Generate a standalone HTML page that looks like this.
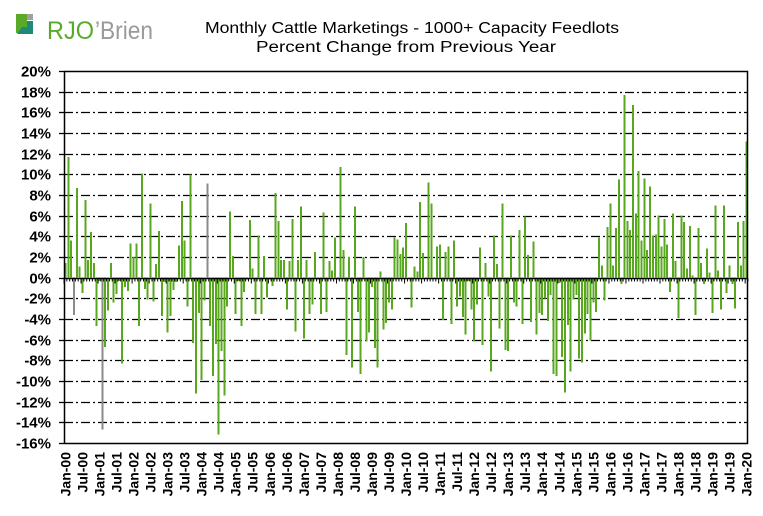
<!DOCTYPE html>
<html><head><meta charset="utf-8"><style>
html,body{margin:0;padding:0;background:#fff;}
svg{display:block;font-family:"Liberation Sans",Arial,sans-serif;}
</style></head><body>
<svg id="c" width="763" height="516" viewBox="0 0 763 516" xmlns="http://www.w3.org/2000/svg">
<rect x="0" y="0" width="763" height="516" fill="#fff"/>
<!-- logo -->
<rect x="16" y="14" width="11" height="19" fill="#5aaa2a"/>
<rect x="27" y="14" width="6" height="6" fill="#a0a0a0"/>
<polygon points="17,34 33,34 33,21 27,21 27,27 22,27" fill="#1e8a7a"/>
<text x="47" y="39" font-size="25" fill="#5aaa2a" textLength="47" lengthAdjust="spacingAndGlyphs">RJO</text>
<text x="95" y="39" font-size="25" fill="#9a9a9a" textLength="58" lengthAdjust="spacingAndGlyphs">’Brien</text>
<text x="412" y="33" font-size="15.5" text-anchor="middle" textLength="414" lengthAdjust="spacingAndGlyphs">Monthly Cattle Marketings  - 1000+ Capacity Feedlots</text>
<text x="406" y="52" font-size="15.5" text-anchor="middle" textLength="300" lengthAdjust="spacingAndGlyphs">Percent Change from Previous Year</text>
<g id="grid"></g>
<g id="bars" shape-rendering="crispEdges"></g>
<g id="axes"></g>
</svg>
<script>
var d=[1.4,11.7,3.6,-3.6,8.7,1.1,-1.5,7.5,1.7,4.4,1.4,-4.7,-0.3,-14.7,-6.7,-3.2,1.4,-2.4,-1.6,-0.3,-8.3,-0.9,-1.3,3.3,2.0,3.3,-4.7,10.1,-1.1,-2.1,7.2,-2.3,1.3,4.5,-3.7,-0.4,-5.3,-3.7,-1.2,-0.4,3.1,7.4,3.6,-2.8,10.0,-6.3,-11.2,-3.4,-9.9,-2.2,9.1,-4.7,-9.5,-6.4,-15.2,-7.1,-11.4,-2.8,6.4,2.1,-3.5,
-0.3,-4.7,-1.4,-0.2,5.6,0.9,-3.5,4.1,-3.5,2.1,-1.9,-0.2,-0.8,8.2,5.5,1.7,1.7,-3.1,1.6,5.7,-5.2,1.7,6.9,-5.9,1.7,-3.5,-2.6,2.5,-0.2,-3.5,6.3,-3.3,1.6,0.7,3.9,-0.2,10.7,2.7,-7.5,2.0,-8.7,6.9,-3.3,-9.3,2.0,-6.2,-5.3,-0.9,-6.8,-8.7,0.6,-5.0,-4.4,-2.4,-3.1,3.9,3.7,2.3,2.9,5.3,
0,-2.9,1.1,0.6,7.3,2.4,0,9.2,7.2,0,3.0,3.2,-4.1,2.5,3.0,-4.5,3.6,-2.8,-1.8,-3.8,-5.5,-0.3,-3.1,-6.2,-2.6,2.9,-6.5,1.4,-1.8,-9.1,4.1,1.3,-4.9,7.2,-7.0,-7.1,4.1,-2.4,-2.8,4.6,-4.5,5.9,2.2,-4.3,3.5,-5.5,-3.4,-3.6,-2.0,-4.2,-1.7,-9.3,-9.5,-0.5,-7.7,-11.1,-4.6,-9.1,-2.1,-1.7,-7.8,
-8.2,-5.4,-3.5,-6.1,-2.4,-3.3,3.9,1.2,-2.2,4.9,7.2,1.2,4.8,9.5,-0.6,17.7,5.5,4.6,16.7,6.2,10.3,3.6,9.6,2.7,8.8,4.1,4.2,6.0,3.0,5.7,3.2,-1.4,6.2,1.6,-3.9,6.0,5.4,0.9,5.0,0.2,-3.6,4.8,1.4,-0.6,2.8,0.5,-3.4,7.0,0.7,-3.1,7.0,-1.5,1.2,-0.6,-3.0,5.4,1.2,5.5,13.2];
var N=241,L=64,R=748,T=71,B=443,step=(R-L)/N,ppu=(B-T)/36;
function Y(v){return T+(20-v)*ppu;}
var ns="http://www.w3.org/2000/svg";
function el(tag,at,par,txt){var e=document.createElementNS(ns,tag);for(var k in at)e.setAttribute(k,at[k]);if(txt!==undefined)e.textContent=txt;document.getElementById(par).appendChild(e);return e;}
for(var v=-16;v<=20;v+=2){var y=Math.round(Y(v))+0.5;
 if(v!=20&&v!=-16&&v!=0)el('line',{x1:L,x2:R,y1:y,y2:y,stroke:'#000','stroke-width':1.3,'stroke-dasharray':'9,3,2,3'},'grid');
 el('line',{x1:L-5,x2:L,y1:y,y2:y,stroke:'#000','stroke-width':1.3},'axes');
 el('text',{x:51,y:y+5,'font-size':15,'font-weight':'bold','text-anchor':'end'},'axes',v+'%');}
var gray={13:1,3:1,50:1};
for(var i=0;i<d.length&&i<N;i++){var x=L+(i+0.5)*step,y0=Y(0),y1=Y(d[i]);
 el('rect',{x:(x-1).toFixed(1),y:Math.min(y0,y1),width:2,height:Math.max(0.5,Math.abs(y1-y0)),fill:gray[i]?'#8a8a8a':'#58a81f'},'bars');}
el('rect',{x:L+0.5,y:T+0.5,width:R-L-1,height:B-T,fill:'none',stroke:'#000','stroke-width':1.5},'axes');
var z=Math.round(Y(0))+0.5;
el('line',{x1:L,x2:R,y1:z,y2:z,stroke:'#000','stroke-width':1.5},'axes');
var mon=['Jan','Jul'];
for(var i=0;i<=N;i++){var x=L+i*step;var big=(i%6==0);
 el('line',{x1:x,x2:x,y1:z,y2:z+(big?5:3),stroke:'#000','stroke-width':1},'axes');}
for(var i=0;i<N;i+=6){var x=L+(i+0.5)*step;var yr=Math.floor(i/12),lab=mon[(i%12)/6]+'-'+(yr<10?'0':'')+yr;
 el('text',{x:0,y:0,'font-size':14,'font-weight':'bold','text-anchor':'end',transform:'translate('+(x+5)+',452) rotate(-90)'},'axes',lab);}
</script>
</body></html>
